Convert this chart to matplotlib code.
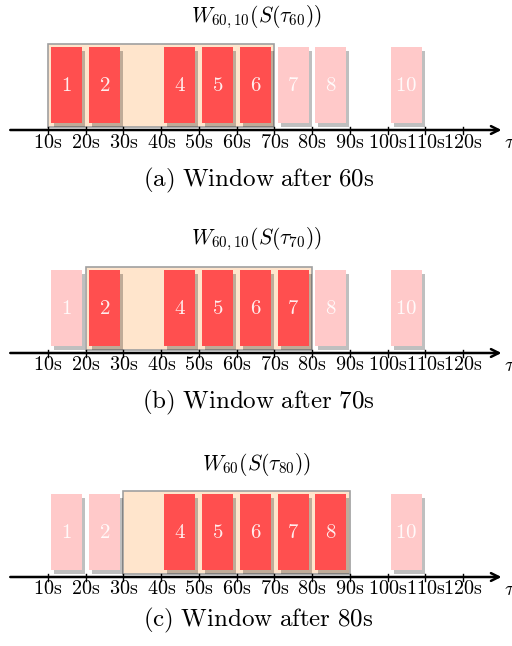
import numpy as np
import matplotlib.pyplot as plt
from matplotlib.patches import Rectangle

plt.rcParams['mathtext.fontset'] = 'cm'

# jobs on the time line (job k occupies the slot [10k, 10k+10))
jobs = [1, 2, 4, 5, 6, 7, 8, 10]
tick_secs = [10, 20, 30, 40, 50, 60, 70, 80, 90, 100, 110, 120]

# one entry per sub-figure
win_start = [10, 20, 30]
win_end = [70, 80, 90]
titles = [r'$W_{60,10}(S(\tau_{60}))$', r'$W_{60,10}(S(\tau_{70}))$', r'$W_{60}(S(\tau_{80}))$']
captions = ['(a) Window after 60s', '(b) Window after 70s', '(c) Window after 80s']
base_y = [130, 353, 577]      # baseline of each time axis (pixels from top)
title_y = [17, 239, 465]
caption_y = [180, 402, 620]

RED = '#ff4f4f'
PINK = '#ffc9c9'
BISQUE = '#ffe5cc'

fig = plt.figure(figsize=(5.12, 6.46), dpi=100)
ax = fig.add_axes([0, 0, 1, 1])
ax.set_xlim(-2.72, 132.98)
ax.set_ylim(646, 0)
ax.axis('off')


def rm(s):
    return r'$\mathrm{' + s.replace(' ', r'\ ') + '}$'


for p in range(3):
    y0 = base_y[p]
    ws, we = win_start[p], win_end[p]

    # window
    ax.add_patch(Rectangle((ws, y0 - 86.5), we - ws, 83.2, facecolor=BISQUE,
                           edgecolor='#a0a0a0', lw=1.2, zorder=1))

    for k in jobs:
        x = 10 * k + 0.85
        active = ws <= 10 * k and 10 * k + 10 <= we
        # drop shadow
        ax.add_patch(Rectangle((x + 0.8, y0 - 79), 8.2, 75.5, facecolor='black',
                               alpha=0.25, lw=0, zorder=2))
        ax.add_patch(Rectangle((x, y0 - 83), 8.2, 75.5,
                               facecolor=RED if active else PINK, lw=0, zorder=3))
        ax.text(x + 4.1, y0 - 45, rm(str(k)), color='white', fontsize=15,
                ha='center', va='center', zorder=4, alpha=0.9)

    # time axis with arrow
    ax.annotate('', xy=(130.2, y0), xytext=(0, y0),
                arrowprops=dict(arrowstyle='->', lw=1.8, color='black',
                                mutation_scale=14, shrinkA=0, shrinkB=0), zorder=5)
    for t in tick_secs:
        ax.plot([t, t], [y0 - 3.5, y0 + 3.5], color='black', lw=1, zorder=5)
        ax.text(t, y0 + 12, rm('%ds' % t), fontsize=14.5, ha='center', va='center')
    ax.text(130.9, y0 + 12, r'$\tau$', fontsize=15, ha='left', va='center')

    ax.text(65.2, title_y[p], titles[p], fontsize=15.5, ha='center', va='center')
    ax.text(65.8, caption_y[p], rm(captions[p]), fontsize=18, ha='center', va='center')

fig.savefig('out.png', dpi=100)
